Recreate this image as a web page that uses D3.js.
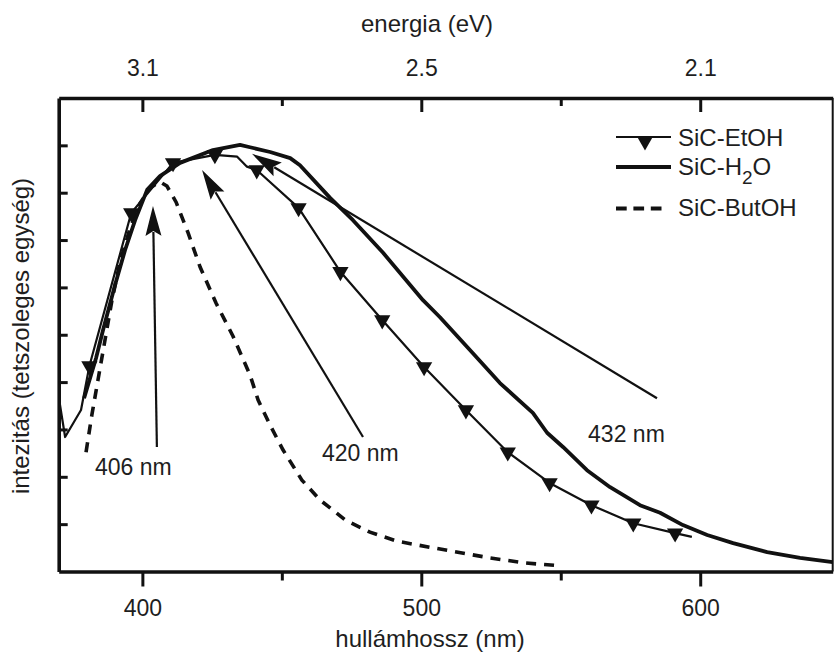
<!DOCTYPE html>
<html>
<head>
<meta charset="utf-8">
<script src="https://cdn.jsdelivr.net/npm/d3@7"></script>
<style>
  body { margin: 0; background: #ffffff; }
  text { font-family: "Liberation Sans", Arial, sans-serif; fill: #1e1e1e; }
</style>
</head>
<body>
<svg id="chart" width="834" height="654"></svg>
<script>
// Photoluminescence spectra of SiC nanoparticles in three solvents.
// Wavelength in nm, intensity in arbitrary units.

// SiC-EtOH (thin line with triangle markers)
const etohWl  = [370, 372.3, 378, 381, 396, 411, 426, 434, 437.5, 441, 456, 471, 486, 501, 516, 531, 546, 561, 576, 591, 597];
const etohVal = [3.69, 2.84, 3.41, 4.34, 7.57, 8.63, 8.80, 8.76, 8.55, 8.48, 7.68, 6.33, 5.31, 4.32, 3.41, 2.52, 1.87, 1.40, 1.02, 0.81, 0.73];
const etohMarkerWl = [381, 396, 411, 426, 441, 456, 471, 486, 501, 516, 531, 546, 561, 576, 591];

// SiC-H2O (thick line)
const h2oWl  = [379.1, 383.4, 385.9, 390.2, 393.8, 397.4, 401.7, 406.3, 413.5, 425.3, 435.0, 438.6, 445.8, 453.0, 456.5,
                467.3, 475.5, 486.3, 500.6, 506.7, 518.5, 528.2, 540.0, 545.1, 550.8, 559.4, 567.7, 578.4, 585.6,
                593.8, 602.5, 611.8, 624.0, 635.8, 647.5];
const h2oVal = [3.66, 4.51, 5.10, 6.05, 6.79, 7.42, 8.06, 8.35, 8.63, 8.90, 9.01, 8.96, 8.86, 8.73, 8.58,
                7.89, 7.42, 6.73, 5.73, 5.37, 4.61, 3.98, 3.35, 2.93, 2.63, 2.14, 1.78, 1.40, 1.24,
                0.98, 0.77, 0.60, 0.41, 0.29, 0.20];

// SiC-ButOH (dashed line)
const butohWl  = [379.8, 381.9, 384.1, 386.6, 389.1, 392.0, 395.6, 399.2, 402.7, 406.3, 408.8, 412.1, 416.4, 420.7,
                  426.4, 432.5, 438.6, 441.5, 445.8, 450.4, 457.2, 463.7, 472.7, 481.6, 491.3, 504.2, 524.3, 537.2, 549.8];
const butohVal = [2.52, 3.31, 4.05, 4.89, 5.73, 6.54, 7.25, 7.78, 8.10, 8.23, 8.14, 7.80, 7.15, 6.43,
                  5.67, 4.97, 4.15, 3.62, 3.09, 2.57, 1.93, 1.51, 1.09, 0.83, 0.64, 0.50, 0.29, 0.18, 0.12];

// Axes
const bottomTickNm = [400, 500, 600];
const bottomMinorNm = [450, 550];
const topTickNm = [400, 500, 600];
const topTickLabels = ["3.1", "2.5", "2.1"];
const topMinorNm = [450, 550];
const leftTicks = [1, 2, 3, 4, 5, 6, 7, 8, 9];

// Peak annotations: arrow tail -> tip, label anchor (start, baseline)
const peakLabels = ["406 nm", "420 nm", "432 nm"];
const arrowTailWl  = [405.2, 479.1, 584.5];
const arrowTailVal = [2.63, 2.84, 3.66];
const arrowTipWl   = [403.8, 421.4, 439.3];
const arrowTipVal  = [7.72, 8.48, 8.82];
const peakLabelWl  = [383.0, 464.4, 559.8];
const peakLabelVal = [2.04, 2.33, 2.74];

const svg = d3.select("#chart");
const ink = "#111111";

const x = d3.scaleLinear().domain([370, 647.5]).range([58.7, 832.7]);
const y = d3.scaleLinear().domain([0, 10]).range([571.5, 98]);

const [x0, x1] = x.range();
const [yb, yt] = y.range();

svg.append("defs").append("clipPath").attr("id", "plot")
  .append("rect").attr("x", x0).attr("y", yt).attr("width", x1 - x0).attr("height", yb - yt);

const plot = svg.append("g").attr("clip-path", "url(#plot)");

const line = d3.line().x(d => x(d[0])).y(d => y(d[1]));
const zip = (a, b) => a.map((v, i) => [v, b[i]]);

// ButOH dashed
plot.append("path")
  .attr("d", line(zip(butohWl, butohVal)))
  .attr("fill", "none").attr("stroke", ink).attr("stroke-width", 3.6)
  .attr("stroke-dasharray", "10,8");

// H2O thick
plot.append("path")
  .attr("d", line(zip(h2oWl, h2oVal)))
  .attr("fill", "none").attr("stroke", ink).attr("stroke-width", 3.8)
  .attr("stroke-linejoin", "round");

// EtOH thin
plot.append("path")
  .attr("d", line(zip(etohWl, etohVal)))
  .attr("fill", "none").attr("stroke", ink).attr("stroke-width", 2.2)
  .attr("stroke-linejoin", "round");

const tri = d3.symbol().type(d3.symbolTriangle).size(115);
plot.selectAll(".etoh-marker")
  .data(etohMarkerWl.map(w => [w, etohVal[etohWl.indexOf(w)]]))
  .join("path")
  .attr("class", "etoh-marker")
  .attr("d", tri)
  .attr("transform", d => `translate(${x(d[0])},${y(d[1])}) rotate(180)`)
  .attr("fill", ink);

// Arrows with labels
const headLen = 30, headHalf = 8;
peakLabels.forEach((lbl, i) => {
  const tx = x(arrowTailWl[i]), ty = y(arrowTailVal[i]);
  const px = x(arrowTipWl[i]), py = y(arrowTipVal[i]);
  const len = Math.hypot(px - tx, py - ty);
  const ux = (px - tx) / len, uy = (py - ty) / len;
  const bx = px - ux * headLen, by = py - uy * headLen;
  const nx = -uy, ny = ux;
  svg.append("line")
    .attr("x1", tx).attr("y1", ty).attr("x2", bx + ux * 4).attr("y2", by + uy * 4)
    .attr("stroke", ink).attr("stroke-width", 2.2);
  svg.append("path")
    .attr("d", `M${px},${py}L${bx + nx * headHalf},${by + ny * headHalf}L${bx + ux * 5},${by + uy * 5}L${bx - nx * headHalf},${by - ny * headHalf}Z`)
    .attr("fill", ink);
  svg.append("text")
    .attr("x", x(peakLabelWl[i])).attr("y", y(peakLabelVal[i]))
    .attr("font-size", 23)
    .text(lbl);
});

// Axes
function styleAxis(g, width) {
  g.select(".domain").attr("stroke", ink).attr("stroke-width", width);
  g.selectAll(".tick line").attr("stroke", ink).attr("stroke-width", 3);
  g.selectAll(".tick text")
    .attr("font-family", '"Liberation Sans", Arial, sans-serif')
    .attr("font-size", 23).attr("fill", "#1e1e1e");
}

const gB = svg.append("g").attr("transform", `translate(0,${yb})`)
  .call(d3.axisBottom(x).tickValues(bottomTickNm).tickSize(15).tickSizeOuter(0).tickPadding(13).tickFormat(d3.format("d")));
styleAxis(gB, 3.6);
const gBm = svg.append("g").attr("transform", `translate(0,${yb})`)
  .call(d3.axisBottom(x).tickValues(bottomMinorNm).tickSize(9).tickFormat(""));
gBm.select(".domain").remove();
styleAxis(gBm, 0);

const gT = svg.append("g").attr("transform", `translate(0,${yt})`)
  .call(d3.axisTop(x).tickValues(topTickNm).tickSize(-14).tickSizeOuter(0).tickPadding(22)
        .tickFormat((d, i) => topTickLabels[i]));
styleAxis(gT, 3.6);
const gTm = svg.append("g").attr("transform", `translate(0,${yt})`)
  .call(d3.axisTop(x).tickValues(topMinorNm).tickSize(-8).tickFormat(""));
gTm.select(".domain").remove();
styleAxis(gTm, 0);

const gL = svg.append("g").attr("transform", `translate(${x0},0)`)
  .call(d3.axisLeft(y).tickValues(leftTicks).tickSize(-9).tickSizeOuter(0).tickFormat(""));
styleAxis(gL, 3.6);

svg.append("line")
  .attr("x1", x1).attr("x2", x1).attr("y1", yt).attr("y2", yb)
  .attr("stroke", ink).attr("stroke-width", 2);

// Axis titles
svg.append("text").attr("x", 430).attr("y", 647).attr("text-anchor", "middle")
  .attr("font-size", 24).text("hullámhossz (nm)");
svg.append("text").attr("x", 427).attr("y", 32).attr("text-anchor", "middle")
  .attr("font-size", 24).text("energia (eV)");
svg.append("text").attr("transform", "translate(29,336) rotate(-90)").attr("text-anchor", "middle")
  .attr("font-size", 24).text("intezitás (tetszoleges egység)");

// Legend
const lg = svg.append("g");
const legendX0 = 616, legendX1 = 671, legendTextX = 678;
lg.append("line").attr("x1", legendX0).attr("x2", legendX1).attr("y1", 137).attr("y2", 137)
  .attr("stroke", ink).attr("stroke-width", 2.2);
lg.append("path").attr("d", tri).attr("transform", "translate(645,141) rotate(180)").attr("fill", ink);
lg.append("text").attr("x", legendTextX).attr("y", 145.5).attr("font-size", 24).text("SiC-EtOH");

lg.append("line").attr("x1", legendX0).attr("x2", legendX1).attr("y1", 167).attr("y2", 167)
  .attr("stroke", ink).attr("stroke-width", 4);
const h2oText = lg.append("text").attr("x", legendTextX).attr("y", 175).attr("font-size", 24);
h2oText.append("tspan").text("SiC-H");
h2oText.append("tspan").attr("dy", 9).attr("font-size", 19).text("2");
h2oText.append("tspan").attr("dy", -9).text("O");

lg.append("line").attr("x1", legendX0).attr("x2", legendX1 - 9).attr("y1", 208.5).attr("y2", 208.5)
  .attr("stroke", ink).attr("stroke-width", 4).attr("stroke-dasharray", "10.7,6.7");
lg.append("text").attr("x", legendTextX).attr("y", 216).attr("font-size", 24).text("SiC-ButOH");
</script>
</body>
</html>
